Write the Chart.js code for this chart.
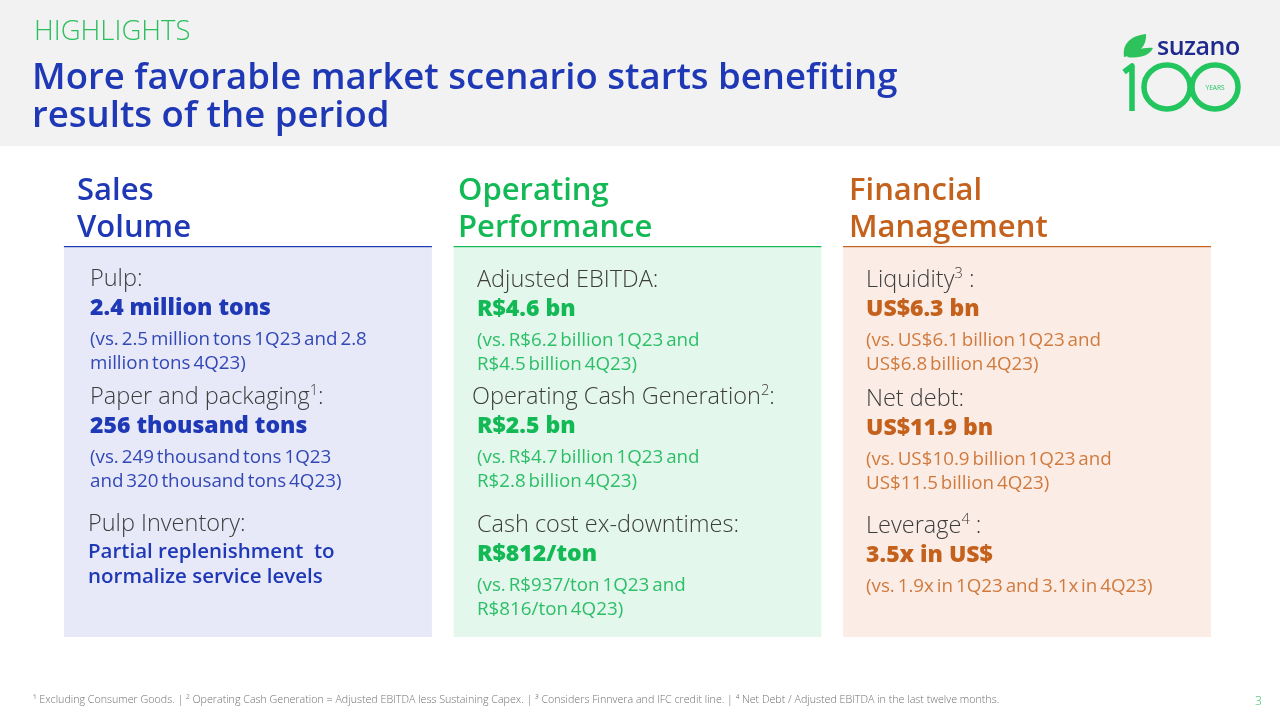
<!DOCTYPE html>
<html>
<head>
<meta charset="utf-8">
<script src="https://cdn.jsdelivr.net/npm/chart.js@4.4.1/dist/chart.umd.min.js"></script>
<style>
  body { margin: 0; width: 1280px; height: 720px; position: relative; overflow: hidden; background: #fff; font-family: "Open Sans", sans-serif; }
  #band { position: absolute; left: 0; top: 0; width: 1280px; height: 146px; background: #f2f2f2; }
  #panels { position: absolute; left: 0; top: 0; }
  #text { position: absolute; left: 0; top: 0; width: 1280px; height: 720px; }
  .t { position: absolute; white-space: pre; }
  sup { font-size: 0.62em; line-height: 0; vertical-align: 0.6em; }
  #logo { position: absolute; left: 1110px; top: 28px; }
</style>
</head>
<body>
<div id="band"></div>
<canvas id="panels" width="1280" height="720"></canvas>
<div id="text"></div>
<svg id="logo" width="150" height="95" viewBox="1110 28 150 95">
  <path d="M1124 57 C1122 44 1130 36 1146 34 C1147 46 1139 54 1124 57 Z" fill="#2dc25c"/>
  <path d="M1127 57 C1134 50 1144 47 1153 48 C1150 55 1140 59 1127 57 Z" fill="#2dc25c"/>
  <text x="1157" y="55" font-family="Open Sans" font-weight="600" font-size="25" fill="#1f2a8c" letter-spacing="-0.5">suzano</text>
  <path d="M1124 72 L1132 66 L1132 111" fill="none" stroke="#22c55e" stroke-width="5.5" stroke-linejoin="round"/>
  <ellipse cx="1167" cy="87" rx="23" ry="22" fill="none" stroke="#22c55e" stroke-width="5.5"/>
  <ellipse cx="1215" cy="87" rx="23" ry="22" fill="none" stroke="#22c55e" stroke-width="5.5"/>
  <text x="1215" y="90" text-anchor="middle" font-family="Open Sans" font-size="6.5" fill="#22c55e">YEARS</text>
</svg>
<script>
// slide text
const kicker = "HIGHLIGHTS";
const titleLines = ["More favorable market scenario starts benefiting", "results of the period"];
const sections = [["Sales", "Volume"], ["Operating", "Performance"], ["Financial", "Management"]];
const metricLabels = [
  ["Pulp:", "Paper and packaging<sup>1</sup>:", "Pulp Inventory:"],
  ["Adjusted EBITDA:", "Operating Cash Generation<sup>2</sup>:", "Cash cost ex-downtimes:"],
  ["Liquidity<sup>3</sup> :", "Net debt:", "Leverage<sup>4</sup> :"]
];
const metricValues = [
  ["2.4 million tons", "256 thousand tons", "Partial replenishment  to\nnormalize service levels"],
  ["R$4.6 bn", "R$2.5 bn", "R$812/ton"],
  ["US$6.3 bn", "US$11.9 bn", "3.5x in US$"]
];
const metricComparisons = [
  ["(vs. 2.5 million tons 1Q23 and 2.8\nmillion tons 4Q23)", "(vs. 249 thousand tons 1Q23\nand 320 thousand tons 4Q23)", ""],
  ["(vs. R$6.2 billion 1Q23 and\nR$4.5 billion 4Q23)", "(vs. R$4.7 billion 1Q23 and\nR$2.8 billion 4Q23)", "(vs. R$937/ton 1Q23 and\nR$816/ton 4Q23)"],
  ["(vs. US$6.1 billion 1Q23 and\nUS$6.8 billion 4Q23)", "(vs. US$10.9 billion 1Q23 and\nUS$11.5 billion 4Q23)", "(vs. 1.9x in 1Q23 and 3.1x in 4Q23)"]
];
const footnote = "¹ Excluding Consumer Goods. | ² Operating Cash Generation = Adjusted EBITDA less Sustaining Capex. | ³ Considers Finnvera and IFC credit line. | ⁴ Net Debt / Adjusted EBITDA in the last twelve months.";
const pageNumber = "3";

// colours
const sectionColors = ["#1f38b6", "#12b955", "#c4611c"];
const panelColors = ["#e7e9f8", "#e3f7ec", "#fbede6"];
const softColors = ["#3248b6", "#2dbf68", "#d07a3e"];

// layout (separate from the data)
const panelLeft = [90, 477, 866];
const itemTops = [[277, 395, 522], [278, 395, 523], [278, 397, 524]];
const labelShift = [[0, 0, -2], [0, -5, 0], [0, 0, 0]];

const layer = document.getElementById("text");

function addText(str, x, cy, size, weight, color, lh, extra) {
  const el = document.createElement("div");
  el.className = "t";
  el.innerHTML = str;
  el.style.left = x + "px";
  el.style.top = (cy - lh / 2) + "px";
  el.style.fontSize = size + "px";
  el.style.fontWeight = weight;
  el.style.color = color;
  el.style.lineHeight = lh + "px";
  if (extra) Object.assign(el.style, extra);
  layer.appendChild(el);
}

addText(kicker, 34, 30, 27.5, 300, "#2cbf5f", 32);
addText(titleLines[0], 32, 75, 36.5, 600, "#1f38b6", 40);
addText(titleLines[1], 32, 113, 36.5, 600, "#1f38b6", 40);

sections.forEach(function (s, i) {
  const x = [77, 458, 849][i];
  addText(s[0], x, 188, 31, 600, sectionColors[i], 38);
  addText(s[1], x, 225, 31, 600, sectionColors[i], 38);

  metricLabels[i].forEach(function (label, j) {
    const top = itemTops[i][j];
    const x0 = panelLeft[i] + labelShift[i][j];
    addText(label, x0, top, 23.5, 300, "#3c3c3c", 28);
    const isText = i === 0 && j === 2;
    addText(metricValues[i][j], panelLeft[i] + (isText ? -2 : 0), top + (isText ? 28 : 29),
      isText ? 20.5 : 23, isText ? 600 : 800, sectionColors[i], isText ? 25 : 28);
    if (metricComparisons[i][j]) {
      addText(metricComparisons[i][j], panelLeft[i], top + 61, 18.8, 400, softColors[i], 24, { wordSpacing: "-2px" });
    }
  });
});

addText(footnote, 33, 699, 10.7, 300, "#707070", 14);
addText(pageNumber, 1255, 701, 12, 300, "#2cbf5f", 14);

// panels drawn as floating bars, one per section
new Chart(document.getElementById("panels").getContext("2d"), {
  type: "bar",
  data: {
    labels: sections.map(function (s) { return s.join(" "); }),
    datasets: [{
      data: sections.map(function () { return [0, 1]; }),
      backgroundColor: panelColors,
      borderColor: sectionColors,
      borderWidth: { top: 1.5, left: 0, right: 0, bottom: 0 },
      borderSkipped: false,
      barPercentage: 1,
      categoryPercentage: 0.945
    }]
  },
  options: {
    responsive: false,
    animation: false,
    layout: { padding: { left: 53, right: 58, top: 246, bottom: 83 } },
    scales: {
      x: { display: false },
      y: { display: false, min: 0, max: 1 }
    },
    plugins: { legend: { display: false }, tooltip: { enabled: false } }
  }
});
</script>
</body>
</html>
